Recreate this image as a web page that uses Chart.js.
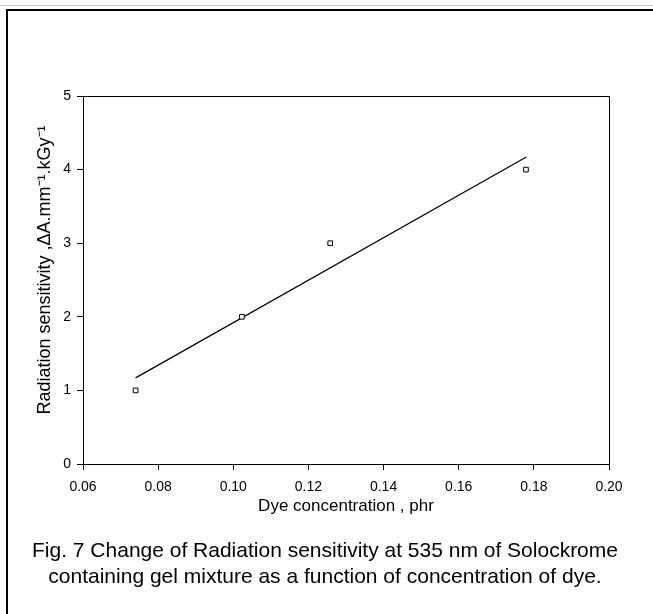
<!DOCTYPE html>
<html>
<head>
<meta charset="utf-8">
<script src="https://cdn.jsdelivr.net/npm/chart.js@4"></script>
<style>
  html, body { margin: 0; padding: 0; background: #fff; }
  body { width: 653px; height: 614px; position: relative; overflow: hidden; }
  /* faint rule at the very top, left over from the page scan */
  #topRule { position: absolute; left: 0; top: 5px; width: 653px; height: 1px; background: #d0d0d0; }
  /* figure frame, runs off the right and bottom edges */
  #frame { position: absolute; left: 6px; top: 9px; width: 700px; height: 700px; border: 2px solid #000; box-sizing: border-box; }
  #chartBox { position: absolute; left: 0; top: 0; width: 653px; height: 614px; }
  #caption {
    position: absolute; left: 0; top: 537px; width: 650px;
    text-align: center; font: 21px "Liberation Sans", Arial, sans-serif;
    line-height: 26px; color: #000;
  }
</style>
</head>
<body>
<div id="topRule"></div>
<div id="frame"></div>
<div id="chartBox"><canvas id="chart"></canvas></div>
<div id="caption">Fig. 7 Change of Radiation sensitivity at 535 nm of Solockrome<br>containing gel mixture as a function of concentration of dye.</div>

<script>
// measured points (dye concentration, phr -> sensitivity)
const dyeConc = [0.074, 0.1023, 0.1258, 0.1779];
const sensitivity = [1, 2, 3, 4];

// straight fit line, end points
const fitConc = [0.074, 0.178];
const fitSens = [1.17, 4.17];

// axis ticks
const xTicks = [0.06, 0.08, 0.10, 0.12, 0.14, 0.16, 0.18, 0.20];
const yTicks = [0, 1, 2, 3, 4, 5];

const FONT = '"Liberation Sans", Arial, sans-serif';

// draws the full box round the plot area (top and right sides too)
const plotBox = {
  id: 'plotBox',
  afterDraw(chart) {
    const { ctx, chartArea: a } = chart;
    ctx.save();
    ctx.strokeStyle = '#000';
    ctx.lineWidth = 1;
    ctx.strokeRect(Math.round(a.left) + 0.5, Math.round(a.top) + 0.5,
      Math.round(a.right - a.left), Math.round(a.bottom - a.top));
    ctx.restore();
  }
};

const ctx = document.getElementById('chart').getContext('2d');
new Chart(ctx, {
  type: 'scatter',
  data: {
    datasets: [
      {
        label: 'measured',
        data: dyeConc.map((x, i) => ({ x: x, y: sensitivity[i] })),
        pointStyle: 'rect',
        pointRadius: 3.3,
        pointBorderWidth: 1,
        pointBorderColor: '#000',
        pointBackgroundColor: '#fff',
        showLine: false
      },
      {
        label: 'fit',
        type: 'line',
        data: fitConc.map((x, i) => ({ x: x, y: fitSens[i] })),
        borderColor: '#000',
        borderWidth: 1.2,
        pointRadius: 0,
        fill: false
      }
    ]
  },
  options: {
    responsive: true,
    maintainAspectRatio: false,
    animation: false,
    layout: { padding: { top: 96, right: 44, left: 34, bottom: 97 } },
    plugins: {
      legend: { display: false },
      tooltip: { enabled: false }
    },
    scales: {
      x: {
        type: 'linear',
        min: xTicks[0],
        max: xTicks[xTicks.length - 1],
        afterBuildTicks: (s) => { s.ticks = xTicks.map(v => ({ value: v })); },
        afterFit: (s) => { s.height = 53; },
        ticks: {
          color: '#000',
          padding: 9,
          font: { family: FONT, size: 14 },
          callback: (v) => Number(v).toFixed(2)
        },
        grid: { drawOnChartArea: false, color: '#000', tickLength: 6 },
        border: { color: '#000' },
        title: {
          display: true,
          text: 'Dye concentration , phr',
          color: '#000',
          padding: 0,
          font: { family: FONT, size: 17 }
        }
      },
      y: {
        min: yTicks[0],
        max: yTicks[yTicks.length - 1],
        afterBuildTicks: (s) => { s.ticks = yTicks.map(v => ({ value: v })); },
        afterFit: (s) => { s.width = 49; },
        ticks: {
          color: '#000',
          padding: 6,
          font: { family: FONT, size: 14 }
        },
        grid: { drawOnChartArea: false, color: '#000', tickLength: 6 },
        border: { color: '#000' },
        title: {
          display: true,
          // leading spaces lift the rotated label a little, as in the original
          text: '\u00A0\u00A0\u00A0\u00A0Radiation sensitivity ,\u0394A.mm\u207B\u00B9.kGy\u207B\u00B9',
          color: '#000',
          padding: 0,
          font: { family: FONT, size: 18 }
        }
      }
    }
  },
  plugins: [plotBox]
});
</script>
</body>
</html>
